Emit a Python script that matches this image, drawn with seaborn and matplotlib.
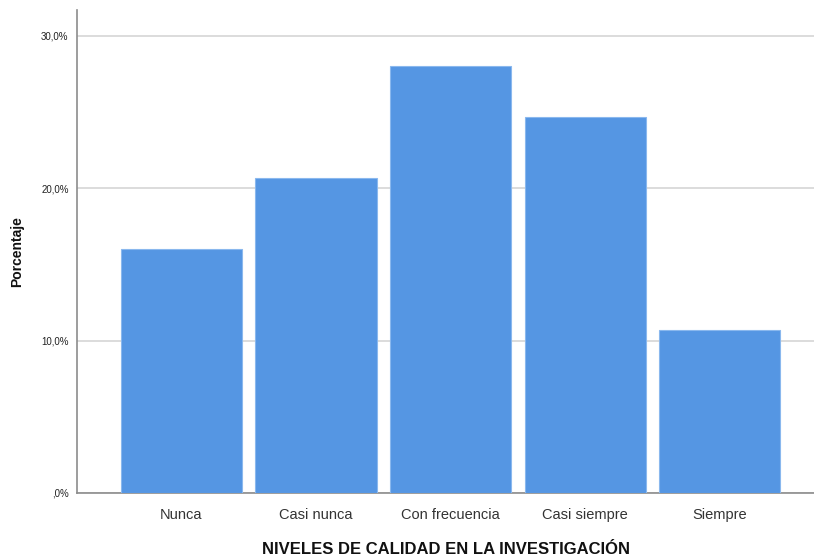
import numpy as np
import pandas as pd
import matplotlib
matplotlib.use("Agg")
import matplotlib.pyplot as plt
import seaborn as sns

# Data
categories = ["Nunca", "Casi nunca", "Con frecuencia", "Casi siempre", "Siempre"]
percentages = [16.0, 20.7, 28.0, 24.7, 10.7]
y_ticks = [0, 10, 20, 30]
y_tick_labels = [",0%", "10,0%", "20,0%", "30,0%"]

df = pd.DataFrame({"nivel": categories, "pct": percentages})

sns.set_style("white")
plt.rcParams["font.family"] = ["Liberation Sans", "DejaVu Sans"]

fig = plt.figure(figsize=(8.14, 5.57), dpi=100)
ax = fig.add_axes([77 / 814, 1 - 493 / 557, (814 - 77) / 814, (493 - 10) / 557])

sns.barplot(data=df, x="nivel", y="pct", color="#5596e3", width=0.9,
            edgecolor="#8ab8ee", linewidth=0.8, saturation=1, ax=ax, zorder=3)

ax.set_xlim(-0.775, 4.70)
ax.set_ylim(0, 31.7)
ax.set_yticks(y_ticks)
ax.set_yticklabels(y_tick_labels, fontsize=7)
ax.tick_params(axis="x", labelsize=10.5, length=0, pad=11, colors="#333333")
ax.tick_params(axis="y", length=0, pad=6, colors="#222222")
ax.yaxis.grid(True, color="#d6d6d6", linewidth=1.2, zorder=0)
ax.set_axisbelow(True)

for side in ["top", "right"]:
    ax.spines[side].set_visible(False)
for side in ["left", "bottom"]:
    ax.spines[side].set_color("#8c8c8c")
    ax.spines[side].set_linewidth(1.2)

ax.set_xlabel("NIVELES DE CALIDAD EN LA INVESTIGACIÓN", fontsize=12,
              fontweight="bold", color="#111111", labelpad=14)
ax.set_ylabel("Porcentaje", fontsize=10, fontweight="bold", color="#111111")
ax.yaxis.set_label_coords(-53 / 737, (493 - 252) / 483)

fig.savefig("out.png", dpi=100)
plt.close(fig)
